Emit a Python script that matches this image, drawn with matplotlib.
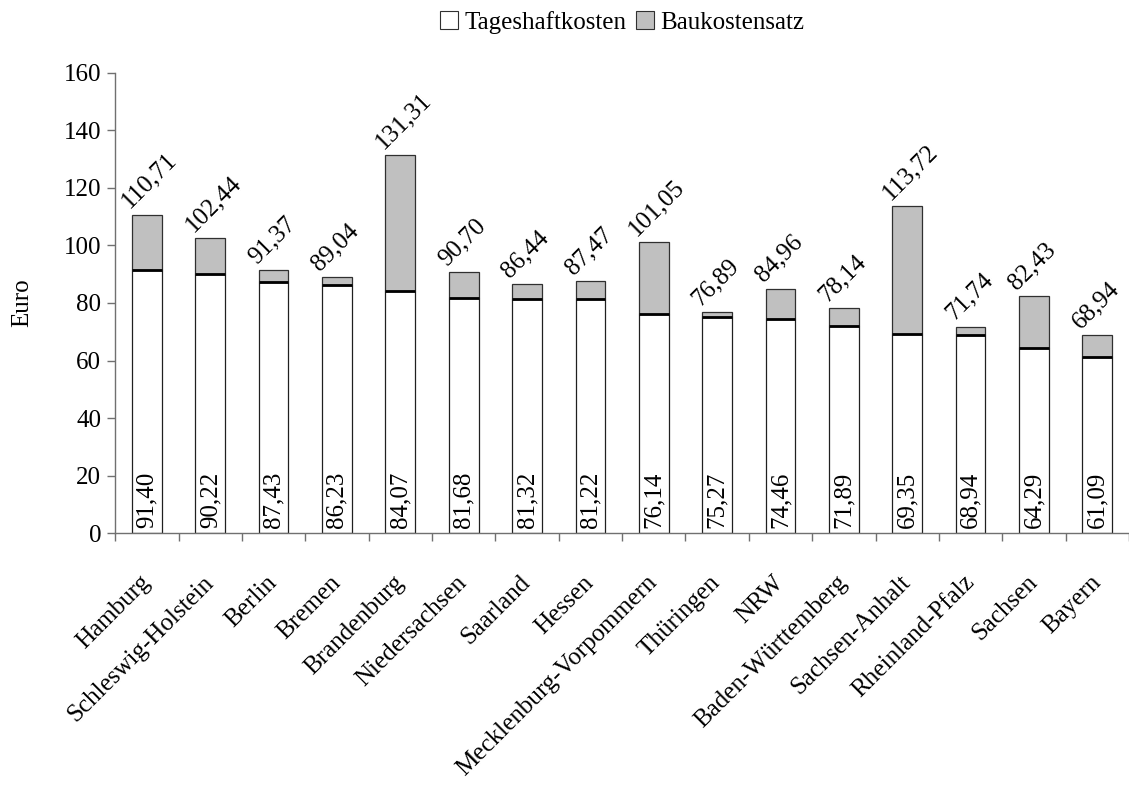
import numpy as np
import matplotlib
matplotlib.use("Agg")
import matplotlib.pyplot as plt
import matplotlib.transforms as mtransforms
from matplotlib.patches import Patch

plt.rcParams['font.family'] = ['Liberation Serif', 'DejaVu Serif']

laender = ["Hamburg", "Schleswig-Holstein", "Berlin", "Bremen", "Brandenburg",
           "Niedersachsen", "Saarland", "Hessen", "Mecklenburg-Vorpommern",
           "Thüringen", "NRW", "Baden-Württemberg", "Sachsen-Anhalt",
           "Rheinland-Pfalz", "Sachsen", "Bayern"]
tageshaft = [91.40, 90.22, 87.43, 86.23, 84.07, 81.68, 81.32, 81.22,
             76.14, 75.27, 74.46, 71.89, 69.35, 68.94, 64.29, 61.09]
gesamt = [110.71, 102.44, 91.37, 89.04, 131.31, 90.70, 86.44, 87.47,
          101.05, 76.89, 84.96, 78.14, 113.72, 71.74, 82.43, 68.94]
yticks = [0, 20, 40, 60, 80, 100, 120, 140, 160]

tageshaft = np.array(tageshaft)
gesamt = np.array(gesamt)
baukosten = gesamt - tageshaft  # gray part on top

def de(v):
    return f"{v:.2f}".replace(".", ",")

fig = plt.figure(figsize=(11.29, 7.87), dpi=100)
ax = fig.add_axes([0.102, 0.3224, 0.898, 0.5852])

x = np.arange(len(laender))
w = 0.47
fs = 18

ax.bar(x, tageshaft, w, color="white", edgecolor="#202020", linewidth=0.9)
ax.bar(x, baukosten, w, bottom=tageshaft, color="#C0C0C0",
       edgecolor="#303030", linewidth=0.9)
# thick line where the white part ends
ax.hlines(tageshaft, x - w / 2, x + w / 2, colors="black", linewidth=2)

# values inside bars
for xi, v in zip(x, tageshaft):
    ax.text(xi, 2.0, de(v), rotation=90, ha="center", va="bottom", fontsize=fs)

# totals above bars
for xi, v in zip(x, gesamt):
    ax.text(xi - w / 2 + 0.02, v + 0.8, de(v), rotation=45, rotation_mode="anchor",
            ha="left", va="bottom", fontsize=fs)

ax.set_xlim(-0.5, len(laender) - 0.5)
ax.set_ylim(0, 160)
ax.set_yticks(yticks)
ax.set_yticklabels([str(t) for t in yticks], fontsize=fs)
ax.set_ylabel("Euro", fontsize=fs, labelpad=22)

ax.set_xticks(x)
ax.set_xticklabels(laender, rotation=45, ha="right", va="center",
                   rotation_mode="anchor", fontsize=fs)
shift = mtransforms.ScaledTranslation(-14 / 100, 0, fig.dpi_scale_trans)
for lab in ax.get_xticklabels():
    lab.set_transform(lab.get_transform() + shift)
ax.tick_params(axis="x", which="major", length=0, pad=33)
ax.set_xticks(np.arange(-0.5, len(laender)), minor=True)
ax.tick_params(axis="x", which="minor", length=6, direction="out",
               color="#707070", width=1)
ax.tick_params(axis="y", length=6, direction="out", color="#707070", width=1,
               pad=4)

for s in ["top", "right"]:
    ax.spines[s].set_visible(False)
for s in ["left", "bottom"]:
    ax.spines[s].set_color("#707070")
    ax.spines[s].set_linewidth(1)

handles = [Patch(facecolor="white", edgecolor="#303030", linewidth=0.8),
           Patch(facecolor="#C0C0C0", edgecolor="#303030", linewidth=0.8)]
fig.legend(handles, ["Tageshaftkosten", "Baukostensatz"], loc="center",
           bbox_to_anchor=(0.551, 0.972), ncol=2, frameon=False, fontsize=fs,
           handlelength=0.7, handleheight=0.7, handletextpad=0.25,
           columnspacing=0.4)

fig.savefig("out.png", dpi=100)
